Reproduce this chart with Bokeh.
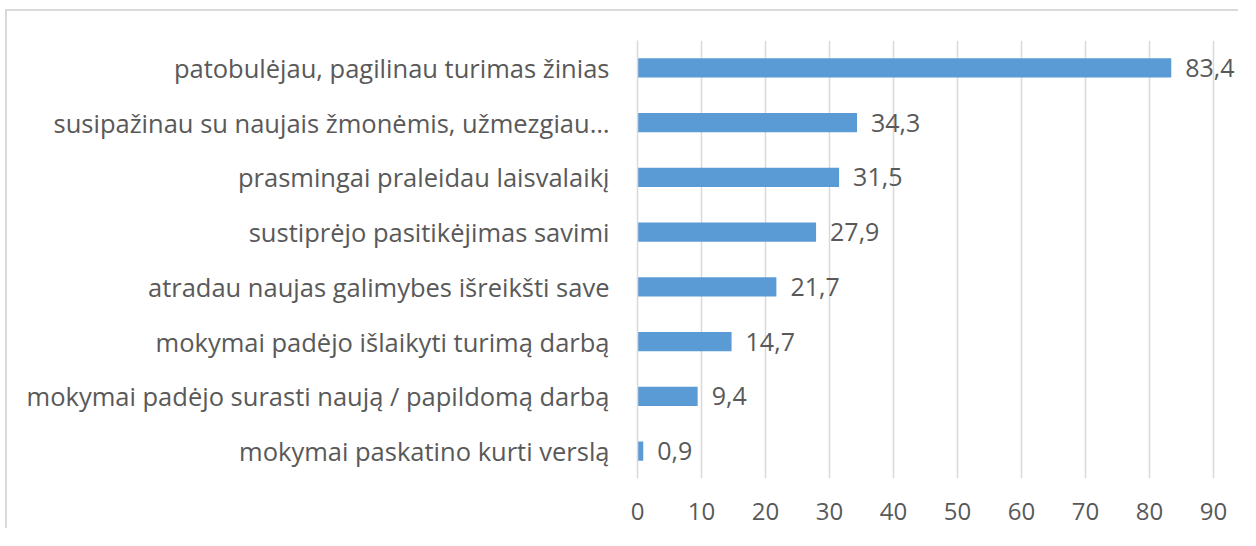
from bokeh.plotting import figure
from bokeh.models import Range1d, FactorRange, ColumnDataSource
from bokeh.core.properties import value
from bokeh.embed import file_html
from bokeh.resources import INLINE

categories = [
    "patobulėjau, pagilinau turimas žinias",
    "susipažinau su naujais žmonėmis, užmezgiau…",
    "prasmingai praleidau laisvalaikį",
    "sustiprėjo pasitikėjimas savimi",
    "atradau naujas galimybes išreikšti save",
    "mokymai padėjo išlaikyti turimą darbą",
    "mokymai padėjo surasti naują / papildomą darbą",
    "mokymai paskatino kurti verslą",
]
values = [83.4, 34.3, 31.5, 27.9, 21.7, 14.7, 9.4, 0.9]
x_ticks = [0, 10, 20, 30, 40, 50, 60, 70, 80, 90]

FONT = "Open Sans"
TXT = "#595959"
FS_CAT = "25.5px"
FS_NUM = "25px"
FS_TICK = "24px"

src = ColumnDataSource(dict(
    cat=categories,
    val=values,
    lab=[f"{v:.1f}".replace(".", ",") for v in values],
))

# border offset (margin + border width)
MX, MY, BW = 5, 9, 2
OX, OY = MX + BW, MY + BW
W, H = 1240 - OX, 530 - OY
FRAME_L, FRAME_T, FRAME_B = 637, 40, 478
x_end = 90 * (1240 - FRAME_L) / 576.0

p = figure(
    width=W, height=H,
    y_range=FactorRange(factors=list(reversed(categories)), range_padding=0),
    x_range=Range1d(0, x_end),
    output_backend="svg", toolbar_location=None,
    min_border_left=FRAME_L - OX, min_border_right=0,
    min_border_top=FRAME_T - OY, min_border_bottom=H - (FRAME_B - OY),
)
p.styles = {
    "margin-left": f"{MX}px", "margin-top": f"{MY}px",
    "border-left": f"{BW}px solid #D9D9D9", "border-top": f"{BW}px solid #D9D9D9",
}
p.outline_line_color = None
p.background_fill_color = "white"
p.border_fill_color = "white"

p.hbar(y="cat", right="val", left=0, height=0.35, source=src,
       fill_color="#5B9BD5", line_color=None)
p.text(x="val", y="cat", text="lab", source=src, x_offset=14,
       text_align="left", text_baseline="middle",
       text_font=value(FONT), text_font_size=FS_NUM, text_color=TXT)

p.xgrid.grid_line_color = "#D9D9D9"
p.xgrid.grid_line_width = 1.5
p.xgrid.ticker = x_ticks
p.ygrid.grid_line_color = None

p.xaxis.ticker = x_ticks
p.xaxis.axis_line_color = None
p.xaxis.major_tick_line_color = None
p.xaxis.minor_tick_line_color = None
p.xaxis.major_label_text_font = FONT
p.xaxis.major_label_text_font_size = FS_TICK
p.xaxis.major_label_text_color = TXT
p.xaxis.major_label_standoff = 18

p.yaxis.axis_line_color = "#D9D9D9"
p.yaxis.axis_line_width = 1.5
p.yaxis.major_tick_line_color = None
p.yaxis.minor_tick_line_color = None
p.yaxis.major_label_text_font = FONT
p.yaxis.major_label_text_font_size = FS_CAT
p.yaxis.major_label_text_color = TXT
p.yaxis.major_label_standoff = 22

open("out.html", "w").write(file_html(p, INLINE))
